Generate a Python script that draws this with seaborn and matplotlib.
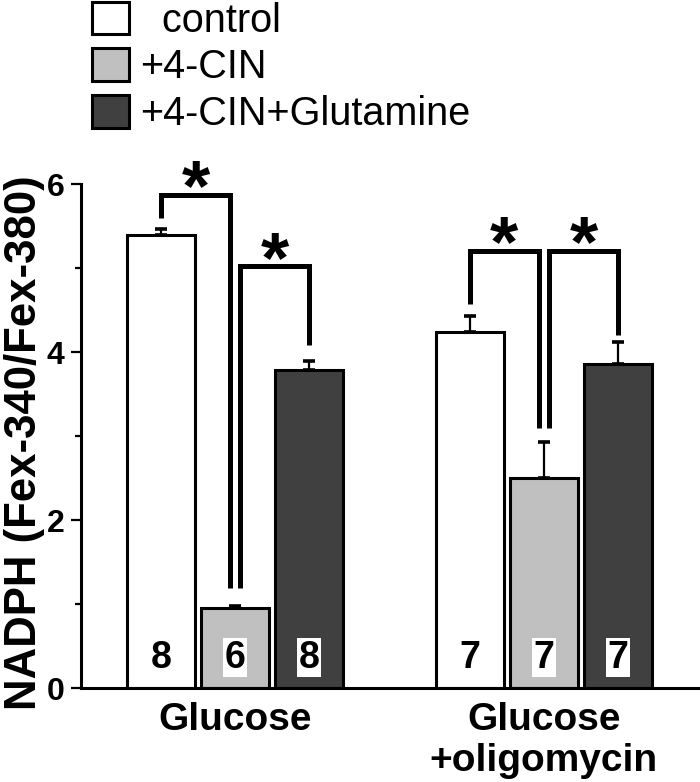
import numpy as np
import pandas as pd
import matplotlib
matplotlib.use("Agg")
import matplotlib.pyplot as plt
from matplotlib.patches import Patch
import seaborn as sns

# data
groups = ["Glucose", "Glucose\n+oligomycin"]
conditions = ["control", "+4-CIN", "+4-CIN+Glutamine"]
legend_labels = ["  control", "+4-CIN", "+4-CIN+Glutamine"]
colors = ["#ffffff", "#c0c0c0", "#404040"]

mean_glucose = [5.39, 0.95, 3.79]
sem_glucose = [0.07, 0.03, 0.10]
mean_oligo = [4.24, 2.50, 3.86]
sem_oligo = [0.19, 0.43, 0.26]
n_glucose = [8, 6, 8]
n_oligo = [7, 7, 7]

# significance brackets: group, bar i, bar j, top, left leg end, right leg end
br_group = [0, 0, 1, 1]
br_i = [0, 1, 0, 1]
br_j = [1, 2, 1, 2]
br_top = [5.87, 5.02, 5.20, 5.20]
br_left = [5.60, 1.19, 4.57, 3.10]
br_right = [1.19, 4.08, 3.10, 4.20]

df = pd.DataFrame({
    "group": np.repeat(groups, 3),
    "condition": conditions * 2,
    "mean": mean_glucose + mean_oligo,
})
sems = [sem_glucose, sem_oligo]
ns = [n_glucose, n_oligo]

sns.set_style("ticks")
plt.rcParams["font.family"] = ["Liberation Sans", "DejaVu Sans"]
plt.rcParams.update({"text.color": "black", "axes.labelcolor": "black",
                     "xtick.color": "black", "ytick.color": "black",
                     "axes.edgecolor": "black"})

fig = plt.figure(figsize=(7, 7.82), dpi=100)
ax = fig.add_axes([81 / 700, 94 / 782, 617 / 700, 546 / 782])

sns.barplot(data=df, x="group", y="mean", hue="condition", hue_order=conditions,
            palette=colors, width=0.72, gap=0.08, edgecolor="black", linewidth=2.2,
            errorbar=None, legend=False, ax=ax)

bar_conts = list(ax.containers)
centers = {}
for k, cont in enumerate(bar_conts):
    for g, bar in enumerate(cont.patches):
        x = bar.get_x() + bar.get_width() / 2
        y = bar.get_height()
        centers[(g, k)] = x
        ax.errorbar(x, y, yerr=[[0], [sems[g][k]]], fmt="none", ecolor="black",
                    elinewidth=1.6, capsize=4.3, capthick=2.6, zorder=1)
        ax.text(x, 0.36, str(ns[g][k]), ha="center", va="center", fontsize=27,
                fontweight="bold", zorder=5,
                bbox=dict(facecolor="white", edgecolor="none", pad=1.0))

# brackets with stars
off = 0.017
for g, i, j, top, yl, yr in zip(br_group, br_i, br_j, br_top, br_left, br_right):
    xl = centers[(g, i)] + (off if i == 1 else 0)
    xr = centers[(g, j)] - (off if j == 1 else 0)
    ax.plot([xl, xl, xr, xr], [yl, top, top, yr], color="black", lw=3.6,
            solid_joinstyle="miter", solid_capstyle="butt", zorder=4)
    ax.annotate("*", xy=((xl + xr) / 2, top), xytext=(0, -11),
                textcoords="offset points", ha="center", va="baseline",
                fontsize=52, fontweight="bold")

ax.set_xlim(-0.5, 1.5)
ax.set_ylim(0, 6.5)
ax.set_yticks([0, 2, 4, 6])
ax.set_yticks([1, 3, 5], minor=True)
ax.tick_params(axis="y", which="major", length=7, width=1.6, labelsize=23, pad=5)
ax.tick_params(axis="y", which="minor", length=4.5, width=1.6)
ax.tick_params(axis="x", length=0, labelsize=28, pad=10)
for lab in ax.get_yticklabels() + ax.get_xticklabels():
    lab.set_fontweight("bold")

sns.despine(ax=ax)
ax.spines["left"].set_bounds(0, 6)
ax.spines["left"].set_linewidth(2.2)
ax.spines["bottom"].set_linewidth(2.2)

ax.set_xlabel("")
ax.set_ylabel("NADPH (Fex-340/Fex-380)", fontsize=31.5, fontweight="bold")
ax.yaxis.set_label_coords(-0.058, 0.45)

handles = [Patch(facecolor=c, edgecolor="black", linewidth=2.2) for c in colors]
fig.legend(handles, legend_labels, loc="upper left", bbox_to_anchor=(0.131, 0.998),
           frameon=False, fontsize=28.5, handlelength=0.93, handleheight=0.9,
           handletextpad=0.3, labelspacing=0.22, borderpad=0, borderaxespad=0)

fig.savefig("out.png", dpi=100)
